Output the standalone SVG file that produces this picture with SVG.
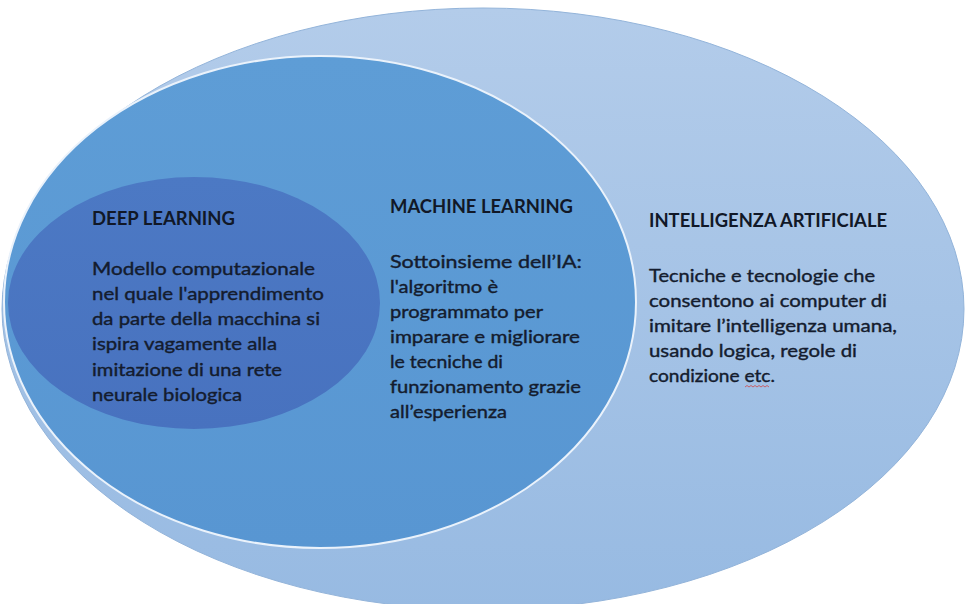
<svg xmlns="http://www.w3.org/2000/svg" width="966" height="604" viewBox="0 0 966 604">
  <defs>
    <linearGradient id="gOuter" x1="0" y1="0" x2="0" y2="1">
      <stop offset="0" stop-color="#B3CCEA"/>
      <stop offset="1" stop-color="#97BAE2"/>
    </linearGradient>
    <linearGradient id="gMid" x1="0" y1="0" x2="0" y2="1">
      <stop offset="0" stop-color="#5E9DD6"/>
      <stop offset="1" stop-color="#5896D2"/>
    </linearGradient>
    <linearGradient id="gInner" x1="0" y1="0" x2="0" y2="1">
      <stop offset="0" stop-color="#4C79C4"/>
      <stop offset="1" stop-color="#4872BF"/>
    </linearGradient>
    <style>
      .title { font-family: "Lato", "Liberation Sans", sans-serif; font-weight: bold; font-size: 18px; fill: #111827; }
      .body { font-family: "Lato", "Liberation Sans", sans-serif; font-size: 18px; fill: #141c2e; stroke: #141c2e; stroke-width: 0.4px; }
    </style>
  </defs>
  <rect width="966" height="604" fill="#ffffff"/>

  <g id="ia">
    <ellipse cx="483" cy="309" rx="481" ry="301" fill="url(#gOuter)" stroke="#93B4DA" stroke-width="1"/>
    <text class="title" x="649" y="227" textLength="238" lengthAdjust="spacingAndGlyphs">INTELLIGENZA ARTIFICIALE</text>
    <text class="body" x="649" y="282" textLength="226" lengthAdjust="spacingAndGlyphs">Tecniche e tecnologie che</text>
    <text class="body" x="649" y="307" textLength="238" lengthAdjust="spacingAndGlyphs">consentono ai computer di</text>
    <text class="body" x="649" y="332" textLength="248" lengthAdjust="spacingAndGlyphs">imitare l’intelligenza umana,</text>
    <text class="body" x="649" y="357" textLength="208" lengthAdjust="spacingAndGlyphs">usando logica, regole di</text>
    <text class="body" x="649" y="382" textLength="126" lengthAdjust="spacingAndGlyphs">condizione etc.</text>
    <path d="M745 387 l2 -1.5 l2 1.5 l2 -1.5 l2 1.5 l2 -1.5 l2 1.5 l2 -1.5 l2 1.5 l2 -1.5 l2 1.5 l2 -1.5 l2 1.5" fill="none" stroke="#d04848" stroke-width="0.8"/>
  </g>

  <g id="ml">
    <ellipse cx="320" cy="302" rx="316" ry="246" fill="url(#gMid)" stroke="#EAF2FB" stroke-width="2"/>
    <text class="title" x="390" y="213" textLength="183" lengthAdjust="spacingAndGlyphs">MACHINE LEARNING</text>
    <text class="body" x="390" y="268" textLength="192" lengthAdjust="spacingAndGlyphs">Sottoinsieme dell’IA:</text>
    <text class="body" x="390" y="293" textLength="108" lengthAdjust="spacingAndGlyphs">l'algoritmo è</text>
    <text class="body" x="390" y="318" textLength="153" lengthAdjust="spacingAndGlyphs">programmato per</text>
    <text class="body" x="390" y="343" textLength="190" lengthAdjust="spacingAndGlyphs">imparare e migliorare</text>
    <text class="body" x="390" y="368" textLength="113" lengthAdjust="spacingAndGlyphs">le tecniche di</text>
    <text class="body" x="390" y="393" textLength="191" lengthAdjust="spacingAndGlyphs">funzionamento grazie</text>
    <text class="body" x="390" y="418" textLength="117" lengthAdjust="spacingAndGlyphs">all’esperienza</text>
  </g>

  <g id="dl">
    <ellipse cx="194" cy="303" rx="186" ry="126" fill="url(#gInner)"/>
    <text class="title" x="92" y="225" textLength="143" lengthAdjust="spacingAndGlyphs">DEEP LEARNING</text>
    <text class="body" x="92" y="275" textLength="223" lengthAdjust="spacingAndGlyphs">Modello computazionale</text>
    <text class="body" x="92" y="300" textLength="232" lengthAdjust="spacingAndGlyphs">nel quale l'apprendimento</text>
    <text class="body" x="92" y="325" textLength="228" lengthAdjust="spacingAndGlyphs">da parte della macchina si</text>
    <text class="body" x="92" y="350" textLength="185" lengthAdjust="spacingAndGlyphs">ispira vagamente alla</text>
    <text class="body" x="92" y="376" textLength="190" lengthAdjust="spacingAndGlyphs">imitazione di una rete</text>
    <text class="body" x="92" y="401" textLength="150" lengthAdjust="spacingAndGlyphs">neurale biologica</text>
  </g>

  <g id="connectors"/>
</svg>
